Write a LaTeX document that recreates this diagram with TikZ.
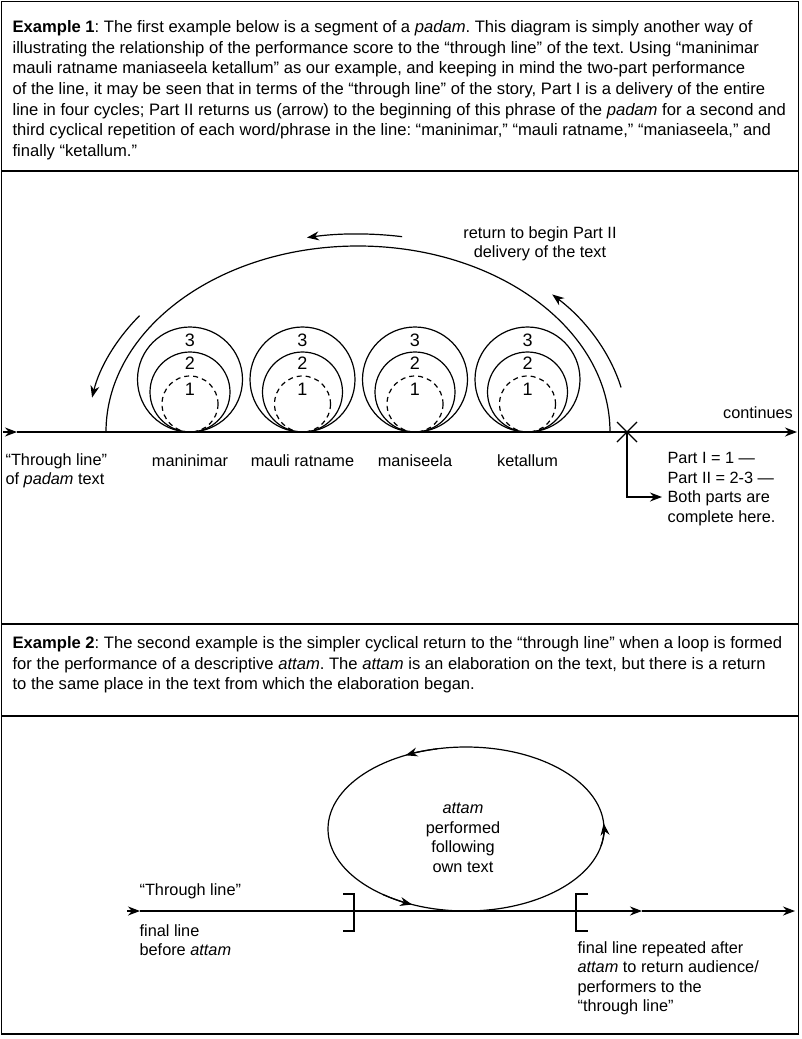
\documentclass[tikz,border=0pt]{standalone}
\usepackage{fontspec}
\setmainfont{Liberation Sans}
\usetikzlibrary{arrows.meta}
\frenchspacing
\begin{document}
\begin{tikzpicture}[x=1pt,y=-1pt,line width=1.2pt,
  lbl/.style={font=\fontsize{16.3}{19.5}\selectfont, inner sep=0pt},
  digit/.style={font=\fontsize{18}{20}\selectfont, inner sep=0pt},
  para/.style={font=\fontsize{16.6}{20.6}\selectfont, inner sep=0pt, align=left, anchor=north west},
  arr/.style={-{Stealth[length=12pt,width=9pt]}},
  ring/.style={line width=1.2pt},
  dashring/.style={line width=1.2pt, dash pattern=on 5pt off 4pt}]
\useasboundingbox (0,0) rectangle (802,1039);
% frame
\draw (1.5,1.5) rectangle (798.5,1034);
\draw (1.5,171) -- (798.5,171);
\draw (1.5,624) -- (798.5,624);
\draw (1.5,716) -- (798.5,716);
% paragraph 1
\node[para] (p1) at (12,20) {\textbf{Example 1}: The first example below is a segment of a \textit{padam}. This diagram is simply another way of\\
illustrating the relationship of the performance score to the “through line” of the text. Using “maninimar\\
mauli ratname maniaseela ketallum” as our example, and keeping in mind the two-part performance\\
of the line, it may be seen that in terms of the “through line” of the story, Part I is a delivery of the entire\\
line in four cycles; Part II returns us (arrow) to the beginning of this phrase of the \textit{padam} for a second and\\
third cyclical repetition of each word/phrase in the line: “maninimar,” “mauli ratname,” “maniaseela,” and\\
finally “ketallum.”};
% paragraph 2
\node[para] (p2) at (12,636) {\textbf{Example 2}: The second example is the simpler cyclical return to the “through line” when a loop is formed\\
for the performance of a descriptive \textit{attam}. The \textit{attam} is an elaboration on the text, but there is a return\\
to the same place in the text from which the elaboration began.};
% ---------- Example 1 diagram ----------
\coordinate (L1s) at (3,432);
\coordinate (L1a) at (17,432);
\coordinate (L1e) at (797,432);
\draw[arr] (L1s) -- (L1a);
\draw[arr] (L1a) -- (L1e);
% big arch
\draw (106,432) arc[start angle=180, end angle=360, x radius=252, y radius=186];
% arrows along arch
\draw[arr] (358,432) ++(216:270 and 198) arc[start angle=216, end angle=190, x radius=270, y radius=198];
\draw[arr] (358,432) ++(279.4:270 and 198) arc[start angle=279.4, end angle=259.1, x radius=270, y radius=198];
\draw[arr] (358,432) ++(347:270 and 198) arc[start angle=347, end angle=316, x radius=270, y radius=198];
% circles
\foreach \cx/\w [count=\i] in {190/maninimar,302.5/mauli ratname,415/maniseela,527.5/ketallum}{
  \draw[ring] (\cx,379.5) circle[radius=52.5];
  \draw[ring] (\cx,392) circle[radius=40];
  \draw[dashring] (\cx,404) circle[radius=28];
  \node[digit] (c3\i) at (\cx,340) {3};
  \node[digit] (c2\i) at (\cx,363) {2};
  \node[digit] (c1\i) at (\cx,389) {1};
  \node[lbl] (w\i) at (\cx,461) {\w};
}
\node[lbl, anchor=north west, align=left] (tl1) at (5,453) {“Through line”\\of \textit{padam} text};
\node[lbl] (cont) at (758,413) {continues};
\node[lbl, align=center] (ret) at (540,244) {return to begin Part II\\delivery of the text};
% X mark and elbow arrow
\coordinate (X) at (627,432);
\draw (X) ++(-10,-10) -- ++(20,20);
\draw (X) ++(-10,10) -- ++(20,-20);
\node[lbl, anchor=north west, align=left] (parts) at (667,452) {Part I = 1 —\\Part II = 2-3 —\\Both parts are\\complete here.};
\coordinate (Xend) at (662,497);
\draw[arr] (X) |- (Xend);
% ---------- Example 2 diagram ----------
\coordinate (B0) at (127,911);
\coordinate (B1) at (140,911);
\coordinate (B2) at (642,911);
\coordinate (B3) at (795,911);
\draw[arr] (B0) -- (B1);
\draw[arr] (B1) -- (B2);
\draw[arr] (B2) -- (B3);
% brackets
\draw (343,894) -- (354,894) -- (354,931) -- (343,931);
\draw (588,894) -- (576,894) -- (576,931) -- (588,931);
% loop
\draw (466,829) ellipse[x radius=138, y radius=82];
\draw[arr] (466,829) ++(258:138 and 82) arc[start angle=258, end angle=244, x radius=138, y radius=82];
\draw[arr] (466,829) ++(12:138 and 82) arc[start angle=12, end angle=-4, x radius=138, y radius=82];
\draw[arr] (466,829) ++(127:138 and 82) arc[start angle=127, end angle=113, x radius=138, y radius=82];
\node[lbl, align=center] (att) at (463,838) {\textit{attam}\\performed\\following\\own text};
\node[lbl, anchor=west] (tl2) at (139,891) {“Through line”};
\node[lbl, anchor=north west, align=left] (fl) at (139,924) {final line\\before \textit{attam}};
\node[lbl, anchor=north west, align=left] (flr) at (577,941) {final line repeated after\\\textit{attam} to return audience/\\performers to the\\“through line”};
\end{tikzpicture}
\end{document}
